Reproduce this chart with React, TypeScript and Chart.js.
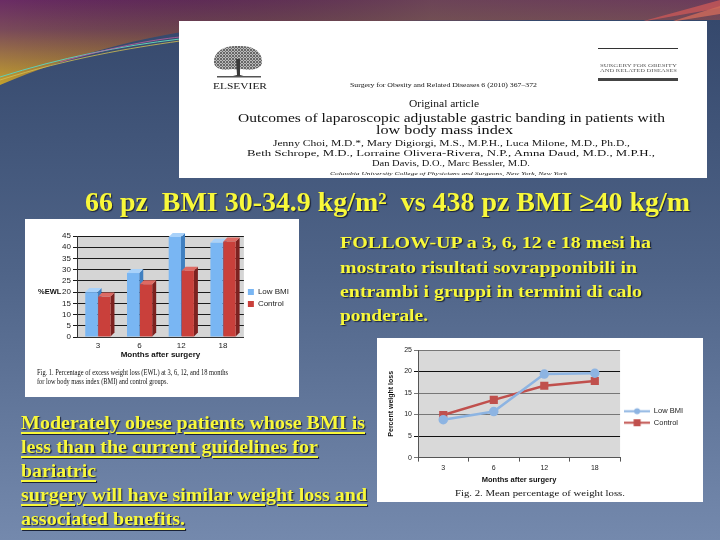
import React, { useEffect, useLayoutEffect, useRef } from "react";
import { Chart, registerables } from "chart.js";

Chart.register(...registerables);

// ---------- data ----------
const months = ["3", "6", "12", "18"];
const ewlLowBmi = [20, 28.5, 44.5, 42];
const ewlControl = [18, 23.5, 29.5, 42.5];
const wlLowBmi = [8.8, 10.7, 19.4, 19.6];
const wlControl = [9.9, 13.4, 16.7, 17.8];
const seriesNames = ["Low BMI", "Control"];

const SERIF = "'Liberation Serif', 'Times New Roman', serif";
const SANS = "'Liberation Sans', Arial, sans-serif";
const YELLOW = "#f8f83a";
const YSHADOW = "1px 1px 1px #1a2238";

type TxtProps = {
  x: number;
  y: number;
  w?: number;
  size: number;
  bold?: boolean;
  italic?: boolean;
  color?: string;
  family?: string;
  shadow?: string;
  underline?: boolean;
  children: React.ReactNode;
};

function Txt({ x, y, w, size, bold, italic, color = "#111", family = SERIF, shadow, underline, children }: TxtProps) {
  const ref = useRef<HTMLSpanElement>(null);
  useLayoutEffect(() => {
    const el = ref.current;
    if (!el) return;
    el.style.transform = "none";
    const nat = el.getBoundingClientRect().width;
    if (w && nat > 0) el.style.transform = `scaleX(${w / nat})`;
  }, [w, children]);
  const lh = Math.round(size * 1.25);
  return (
    <div style={{ position: "absolute", left: x, top: y - lh / 2, height: lh, lineHeight: lh + "px", whiteSpace: "pre" }}>
      <span
        ref={ref}
        style={{
          display: "inline-block",
          transformOrigin: "0 50%",
          fontSize: size,
          fontWeight: bold ? 700 : 400,
          fontStyle: italic ? "italic" : "normal",
          color,
          fontFamily: family,
          textShadow: shadow,
          textDecoration: underline ? "underline" : "none",
          textDecorationThickness: underline ? "2px" : undefined,
          textUnderlineOffset: underline ? "3px" : undefined,
        }}
      >
        {children}
      </span>
    </div>
  );
}

const areaBg = (color: string) => ({
  id: "areaBg",
  beforeDraw(chart: any) {
    const { ctx, chartArea } = chart;
    ctx.save();
    ctx.fillStyle = color;
    ctx.fillRect(chartArea.left, chartArea.top, chartArea.right - chartArea.left, chartArea.bottom - chartArea.top);
    ctx.restore();
  },
});

const sideColors = ["#3f7fc0", "#7d2220"];
const topColors = ["#a9d2fa", "#de6a63"];
const bar3d = {
  id: "bar3d",
  beforeDatasetsDraw(chart: any) {
    const ctx = chart.ctx;
    const d = 4;
    chart.data.datasets.forEach((_ds: any, i: number) => {
      const meta = chart.getDatasetMeta(i);
      meta.data.forEach((bar: any) => {
        const { x, y, base, width } = bar.getProps(["x", "y", "base", "width"], true);
        const l = x - width / 2;
        const r = x + width / 2;
        ctx.save();
        ctx.fillStyle = sideColors[i];
        ctx.beginPath();
        ctx.moveTo(r, y);
        ctx.lineTo(r + d, y - d);
        ctx.lineTo(r + d, base - d);
        ctx.lineTo(r, base);
        ctx.closePath();
        ctx.fill();
        ctx.fillStyle = topColors[i];
        ctx.beginPath();
        ctx.moveTo(l, y);
        ctx.lineTo(l + d, y - d);
        ctx.lineTo(r + d, y - d);
        ctx.lineTo(r, y);
        ctx.closePath();
        ctx.fill();
        ctx.restore();
      });
    });
  },
};

function BarChart() {
  const ref = useRef<HTMLCanvasElement>(null);
  useEffect(() => {
    if (!ref.current) return;
    const chart = new Chart(ref.current, {
      type: "bar",
      data: {
        labels: months,
        datasets: [
          { label: seriesNames[0], data: ewlLowBmi, backgroundColor: "#79b6f3" },
          { label: seriesNames[1], data: ewlControl, backgroundColor: "#c9403b" },
        ],
      },
      options: {
        animation: false,
        responsive: false,
        layout: { padding: { top: 17, left: 0, right: 0, bottom: 5 } },
        datasets: { bar: { categoryPercentage: 0.62, barPercentage: 0.95 } } as any,
        scales: {
          x: {
            grid: { display: false, drawTicks: false },
            border: { color: "#333" },
            ticks: { font: { size: 8, family: SANS }, color: "#222", padding: 4 },
            title: { display: true, text: "Months after surgery", font: { size: 8, weight: "bold", family: SANS }, color: "#111", padding: { top: 1, bottom: 0 } },
            afterFit(s: any) {
              s.height = 23;
            },
          },
          y: {
            min: 0,
            max: 45,
            ticks: { stepSize: 5, autoSkip: false, font: { size: 8, family: SANS }, color: "#222", padding: 2 },
            grid: { color: "#1a1a1a", tickLength: 4 },
            border: { color: "#333" },
            afterFit(s: any) {
              s.width = 52;
            },
          },
        },
        plugins: {
          legend: {
            position: "right",
            labels: { boxWidth: 6, boxHeight: 6, font: { size: 8, family: SANS }, color: "#222", padding: 4 },
          },
          tooltip: { enabled: false },
        },
      },
      plugins: [areaBg("#d5d5d5"), bar3d],
    });
    return () => chart.destroy();
  }, []);
  return <canvas ref={ref} width={274} height={146} style={{ position: "absolute", left: 25, top: 219 }} />;
}

function makeIcon(color: string, square: boolean) {
  const c = document.createElement("canvas");
  c.width = 26;
  c.height = 9;
  const g = c.getContext("2d")!;
  g.strokeStyle = color;
  g.lineWidth = 2;
  g.beginPath();
  g.moveTo(0, 4.5);
  g.lineTo(26, 4.5);
  g.stroke();
  g.fillStyle = color;
  if (square) g.fillRect(9.5, 1, 7, 7);
  else {
    g.beginPath();
    g.arc(13, 4.5, 3, 0, Math.PI * 2);
    g.fill();
  }
  return c;
}

function LineChart() {
  const ref = useRef<HTMLCanvasElement>(null);
  useEffect(() => {
    if (!ref.current) return;
    const icons = [makeIcon("#8db4e2", false), makeIcon("#c0504d", true)];
    const chart = new Chart(ref.current, {
      type: "line",
      data: {
        labels: months,
        datasets: [
          { label: seriesNames[0], data: wlLowBmi, borderColor: "#8db4e2", backgroundColor: "#8db4e2", borderWidth: 2.5, pointRadius: 3.5, pointStyle: "circle" },
          { label: seriesNames[1], data: wlControl, borderColor: "#c0504d", backgroundColor: "#c0504d", borderWidth: 2.5, pointRadius: 4, pointStyle: "rect" },
        ],
      },
      options: {
        animation: false,
        responsive: false,
        layout: { padding: { top: 10, left: 10, right: 10, bottom: 2 } },
        scales: {
          x: {
            offset: true,
            grid: { offset: true, drawOnChartArea: false, tickLength: 4, color: "#555" },
            border: { color: "#555" },
            ticks: { font: { size: 7, family: SANS }, color: "#222", padding: 2 },
            title: { display: true, text: "Months after surgery", font: { size: 7.5, weight: "bold", family: SANS }, color: "#111", padding: { top: 1, bottom: 0 } },
          },
          y: {
            min: 0,
            max: 25,
            ticks: { stepSize: 5, font: { size: 7, family: SANS }, color: "#222", padding: 2 },
            grid: {
              color: (c: any) => (c.tick && (c.tick.value === 20 || c.tick.value === 5) ? "#111" : "#777"),
              tickLength: 4,
            },
            border: { color: "#555" },
            title: { display: true, text: "Percent weight loss", font: { size: 7, weight: "bold", family: SANS }, color: "#111", padding: 0 },
            afterFit(s: any) {
              s.width = 31;
            },
          },
        },
        plugins: {
          legend: {
            position: "right",
            labels: {
              usePointStyle: true,
              pointStyleWidth: 26,
              boxHeight: 8,
              font: { size: 7.5, family: SANS },
              color: "#222",
              padding: 4,
              generateLabels: (ch: any) => {
                const base = Chart.defaults.plugins.legend.labels.generateLabels(ch);
                return base.map((l: any, i: number) => ({ ...l, pointStyle: icons[i] }));
              },
            },
          },
          tooltip: { enabled: false },
        },
      },
      plugins: [areaBg("#d9d9d9")],
    });
    return () => chart.destroy();
  }, []);
  return <canvas ref={ref} width={326} height={146} style={{ position: "absolute", left: 377, top: 340 }} />;
}

function Background() {
  return (
    <svg width={720} height={540} style={{ position: "absolute", left: 0, top: 0 }}>
      <defs>
        <linearGradient id="bgMain" x1="0" y1="0" x2="0" y2="1">
          <stop offset="0" stopColor="#33466a" />
          <stop offset="0.5" stopColor="#4f6488" />
          <stop offset="1" stopColor="#7489ad" />
        </linearGradient>
        <linearGradient id="bgTop" x1="0" y1="0" x2="0" y2="1">
          <stop offset="0" stopColor="#6a2c64" />
          <stop offset="0.35" stopColor="#7a4a5a" />
          <stop offset="1" stopColor="#c4a22c" />
        </linearGradient>
        <linearGradient id="bgTopR" x1="0" y1="0" x2="1" y2="0">
          <stop offset="0" stopColor="#000" stopOpacity="0" />
          <stop offset="0.6" stopColor="#6e6048" stopOpacity="0.45" />
          <stop offset="1" stopColor="#6e6048" stopOpacity="0.3" />
        </linearGradient>
        <pattern id="leaves" width="3" height="3" patternUnits="userSpaceOnUse">
          <rect width="3" height="3" fill="#bdbdbd" />
          <circle cx="1" cy="1" r="1" fill="#4a4a4a" />
          <circle cx="2.5" cy="2.4" r="0.6" fill="#6a6a6a" />
        </pattern>
      </defs>
      <rect x={0} y={0} width={720} height={540} fill="url(#bgMain)" />
      <path d="M0,0 H720 V20 C 500,20 320,20 250,24 C 160,30 70,55 0,85 Z" fill="url(#bgTop)" />
      <path d="M0,0 H720 V20 C 500,20 320,20 250,24 C 160,30 70,55 0,85 Z" fill="url(#bgTopR)" />
      <path d="M0,77 C 60,58 120,46 180,39" stroke="#5fd0b8" strokeWidth={1} fill="none" />
      <path d="M0,80 C 70,58 130,48 180,41" stroke="#d6c050" strokeWidth={0.8} fill="none" />
      <path d="M60,62 C 110,48 150,40 180,37" stroke="#c060a0" strokeWidth={0.8} fill="none" />
      <path d="M640,22 L720,0 L720,8 Z" fill="#c85858" opacity={0.8} />
      <path d="M670,22 L720,6 L720,14 Z" fill="#d06a5a" opacity={0.8} />
    </svg>
  );
}

function Tree() {
  return (
    <svg width={54} height={36} style={{ position: "absolute", left: 211, top: 43 }}>
      <path d="M3,20 C 2,8 14,2 27,3 C 42,2 52,9 51,20 C 50,26 40,28 30,26 L 27,27 L 22,26 C 12,28 4,26 3,20 Z" fill="url(#leaves)" />
      <path d="M25,16 L 26,32 L 18,34 L 36,34 L 29,32 L 29,16 Z" fill="#3a3a3a" />
      <rect x={6} y={33} width={44} height={1.5} fill="#555" />
    </svg>
  );
}

export default function App() {
  return (
    <div style={{ position: "fixed", left: 0, top: 0, width: 720, height: 540, overflow: "hidden", fontFamily: SERIF }}>
      <Background />
      <div style={{ position: "absolute", left: 179, top: 21, width: 528, height: 157, background: "#fff" }} />
      {/* article contents */}
      <Tree />
      <Txt x={213} y={83} w={54} size={9}>ELSEVIER</Txt>
      <Txt x={350} y={82} w={187} size={6}>Surgery for Obesity and Related Diseases 6 (2010) 367–372</Txt>
      <div style={{ position: "absolute", left: 598, top: 48, width: 80, height: 1, background: "#333" }} />
      <div style={{ position: "absolute", left: 598, top: 78, width: 80, height: 3, background: "#444" }} />
      <Txt x={600} y={62} w={77} size={5} color="#555">SURGERY FOR OBESITY</Txt>
      <Txt x={600} y={67} w={77} size={5} color="#555">AND RELATED DISEASES</Txt>
      <Txt x={409} y={102} w={70} size={9.5}>Original article</Txt>
      <Txt x={238} y={117} w={427} size={11.5}>Outcomes of laparoscopic adjustable gastric banding in patients with</Txt>
      <Txt x={376} y={129} w={137} size={11.5}>low body mass index</Txt>
      <Txt x={273} y={140} w={357} size={9}>Jenny Choi, M.D.*, Mary Digiorgi, M.S., M.P.H., Luca Milone, M.D., Ph.D.,</Txt>
      <Txt x={247} y={150} w={408} size={9}>Beth Schrope, M.D., Lorraine Olivera-Rivera, N.P., Amna Daud, M.D., M.P.H.,</Txt>
      <Txt x={372} y={160} w={158} size={9}>Dan Davis, D.O., Marc Bessler, M.D.</Txt>
      <Txt x={330} y={170} w={237} size={5} italic>Columbia University College of Physicians and Surgeons, New York, New York</Txt>

      {/* yellow headline */}
      <Txt x={85} y={202} w={605} size={27} bold color={YELLOW} shadow={YSHADOW}>66 pz  BMI 30-34.9 kg/m²  vs 438 pz BMI ≥40 kg/m</Txt>

      {/* bar chart panel */}
      <div style={{ position: "absolute", left: 25, top: 219, width: 274, height: 178, background: "#fff" }} />
      <BarChart />
      <Txt x={38} y={288} size={7.5} bold family={SANS} color="#111">%EWL</Txt>
      <Txt x={37} y={370} w={191} size={8}>Fig. 1. Percentage of excess weight loss (EWL) at 3, 6, 12, and 18 months</Txt>
      <Txt x={37} y={379} w={131} size={8}>for low body mass index (BMI) and control groups.</Txt>

      {/* follow-up text */}
      <Txt x={340} y={242} w={311} size={17} bold color={YELLOW} shadow={YSHADOW}>FOLLOW-UP a 3, 6, 12 e 18 mesi ha</Txt>
      <Txt x={340} y={267} w={297} size={17} bold color={YELLOW} shadow={YSHADOW}>mostrato risultati sovrapponibili in</Txt>
      <Txt x={340} y={291} w={302} size={17} bold color={YELLOW} shadow={YSHADOW}>entrambi i gruppi in termini di calo</Txt>
      <Txt x={340} y={315} w={88} size={17} bold color={YELLOW} shadow={YSHADOW}>ponderale.</Txt>

      {/* line chart panel */}
      <div style={{ position: "absolute", left: 377, top: 338, width: 326, height: 164, background: "#fff" }} />
      <LineChart />
      <Txt x={455} y={490} w={170} size={9}>Fig. 2. Mean percentage of weight loss.</Txt>

      {/* bottom text */}
      <Txt x={21} y={423} w={344} size={18} bold underline color={YELLOW} shadow={YSHADOW}>Moderately obese patients whose BMI is</Txt>
      <Txt x={21} y={447} w={297} size={18} bold underline color={YELLOW} shadow={YSHADOW}>less than the current guidelines for</Txt>
      <Txt x={21} y={471} w={75} size={18} bold underline color={YELLOW} shadow={YSHADOW}>bariatric</Txt>
      <Txt x={21} y={495} w={346} size={18} bold underline color={YELLOW} shadow={YSHADOW}>surgery will have similar weight loss and</Txt>
      <Txt x={21} y={519} w={164} size={18} bold underline color={YELLOW} shadow={YSHADOW}>associated benefits.</Txt>
    </div>
  );
}
